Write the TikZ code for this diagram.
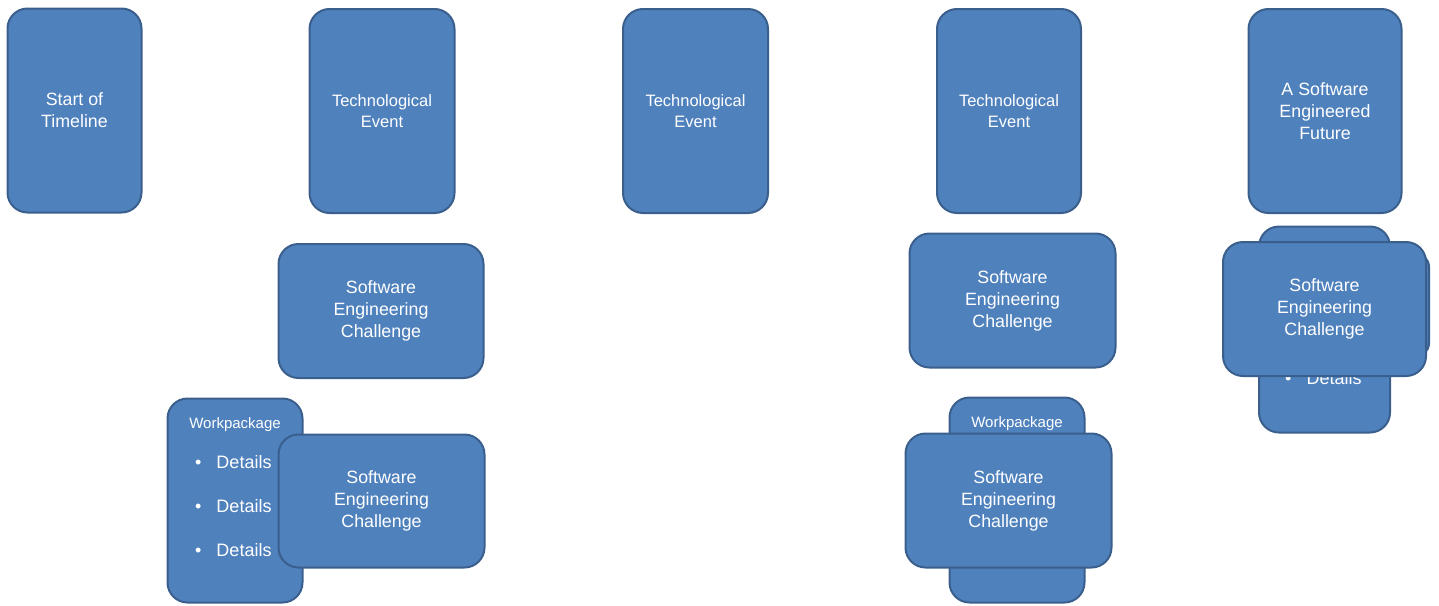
\documentclass[tikz,border=0pt]{standalone}
\usepackage{fontspec}
\setmainfont{Liberation Sans}
\definecolor{boxfill}{HTML}{4F81BD}
\definecolor{boxline}{HTML}{3A5F8C}
\begin{document}
\begin{tikzpicture}[x=1pt,y=-1pt,
  blk/.style={draw=boxline, fill=boxfill, line width=2pt, rounded corners=20pt, rectangle, inner sep=0pt, text=white, align=center},
  big/.style={font=\fontsize{17.8}{22}\selectfont},
  mid/.style={font=\fontsize{16.5}{21}\selectfont},
  wptitle/.style={text=white, font=\fontsize{15}{18}\selectfont, anchor=base, inner sep=0pt},
  det/.style={text=white, font=\fontsize{18}{22}\selectfont, anchor=base west, inner sep=0pt},
]
\useasboundingbox (0,0) rectangle (1439,605);

% top row
\node[blk, big, minimum width=134, minimum height=204] (start) at (74.5,110.5) {Start of\\Timeline};
\node[blk, mid, minimum width=145, minimum height=204] (tech1) at (382,111) {Technological\\Event};
\node[blk, mid, minimum width=145, minimum height=204] (tech2) at (695.5,111) {Technological\\Event};
\node[blk, mid, minimum width=144, minimum height=204] (tech3) at (1009,111) {Technological\\Event};
\node[blk, big, minimum width=153, minimum height=204] (future) at (1325,111) {A Software\\Engineered\\Future};

% column 1
\node[blk, big, minimum width=205, minimum height=134] (sec1) at (381,311) {Software\\Engineering\\Challenge};
\node[blk, minimum width=135, minimum height=204] (wp1) at (235,500.5) {};
\node[wptitle] (wp1t) at (235,428) {Workpackage};
\node[det] (wp1a) at (195,468.5) {\textbullet\hspace{15pt}Details};
\node[det] (wp1b) at (195,512.5) {\textbullet\hspace{15pt}Details};
\node[det] (wp1c) at (195,556.5) {\textbullet\hspace{15pt}Details};
\node[blk, big, minimum width=206, minimum height=133] (sec1b) at (381.5,501) {Software\\Engineering\\Challenge};

% column 4
\node[blk, big, minimum width=206, minimum height=134] (sec3) at (1012.5,300.5) {Software\\Engineering\\Challenge};
\node[blk, minimum width=135, minimum height=205] (wp3) at (1017,500) {};
\node[wptitle] (wp3t) at (1017,427) {Workpackage};
\node[blk, big, minimum width=206, minimum height=134] (sec3b) at (1008.5,500.5) {Software\\Engineering\\Challenge};

% column 5
\node[blk, rounded corners=14pt, minimum width=100, minimum height=104] (hidden5) at (1379,305) {};
\node[blk, minimum width=131, minimum height=206] (wp5) at (1324.5,329.5) {};
\node[det] (wp5c) at (1285,384.5) {\textbullet\hspace{15pt}Details};
\node[blk, big, minimum width=203, minimum height=134] (sec5) at (1324.5,309) {Software\\Engineering\\Challenge};
\end{tikzpicture}
\end{document}
